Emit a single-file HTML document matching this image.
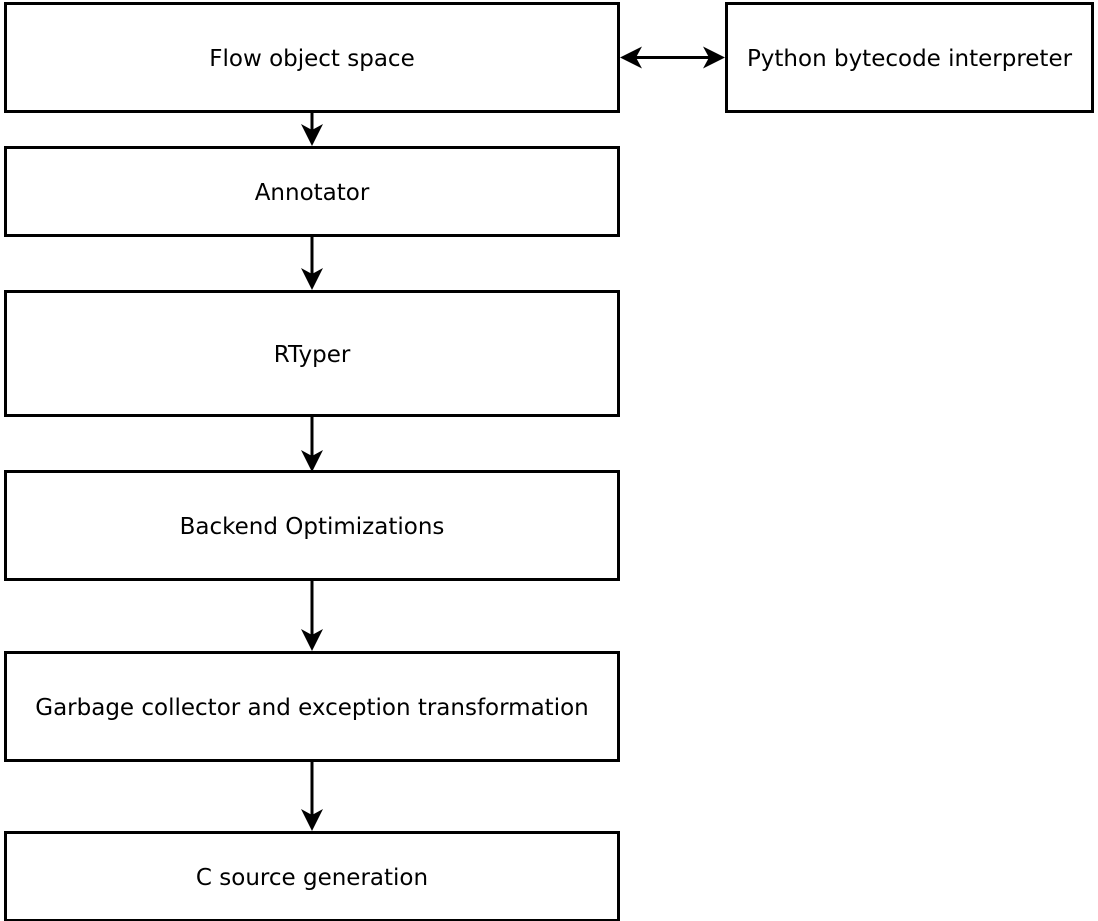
<!DOCTYPE html>
<html><head><meta charset="utf-8"><style>
html,body{margin:0;padding:0;background:#fff;}
body{position:relative;width:1098px;height:921px;overflow:hidden;}
svg{display:block;position:absolute;left:0;top:0;}
.t{position:absolute;display:flex;align-items:center;justify-content:center;font-family:"DejaVu Sans","Liberation Sans",sans-serif;font-size:23px;line-height:1;color:#000;white-space:nowrap;padding-top:4px;box-sizing:border-box;}
</style></head><body>
<svg width="1098" height="921" viewBox="0 0 1098 921" xmlns="http://www.w3.org/2000/svg">
<defs>
<path id="ah" d="M0,0 L-11,-22 L0,-16 L11,-22 Z" fill="#000"/>
</defs>
<g fill="#fff" stroke="#000" stroke-width="3">
<rect x="5.5" y="3.5" width="613" height="108"/>
<rect x="726.5" y="3.5" width="366" height="108"/>
<rect x="5.5" y="147.5" width="613" height="88"/>
<rect x="5.5" y="291.5" width="613" height="124"/>
<rect x="5.5" y="471.5" width="613" height="108"/>
<rect x="5.5" y="652.5" width="613" height="108"/>
<rect x="5.5" y="832.5" width="613" height="88"/>
</g>
<g stroke="#000" stroke-width="3">
<line x1="312" y1="112" x2="312" y2="132"/>
<line x1="312" y1="236" x2="312" y2="276"/>
<line x1="312" y1="416" x2="312" y2="456"/>
<line x1="312" y1="580" x2="312" y2="636"/>
<line x1="312" y1="761" x2="312" y2="816"/>
<line x1="634" y1="57.5" x2="710" y2="57.5"/>
</g>
<use href="#ah" transform="translate(312,146)"/>
<use href="#ah" transform="translate(312,290)"/>
<use href="#ah" transform="translate(312,472)"/>
<use href="#ah" transform="translate(312,651)"/>
<use href="#ah" transform="translate(312,831)"/>
<use href="#ah" transform="translate(620,57.5) rotate(90)"/>
<use href="#ah" transform="translate(725,57.5) rotate(-90)"/>
</svg>
<div class="t" style="left:5px;top:3px;width:614px;height:109px">Flow object space</div>
<div class="t" style="left:726px;top:3px;width:367px;height:109px">Python bytecode interpreter</div>
<div class="t" style="left:5px;top:147px;width:614px;height:89px">Annotator</div>
<div class="t" style="left:5px;top:291px;width:614px;height:125px">RTyper</div>
<div class="t" style="left:5px;top:471px;width:614px;height:109px">Backend Optimizations</div>
<div class="t" style="left:5px;top:652px;width:614px;height:109px">Garbage collector and exception transformation</div>
<div class="t" style="left:5px;top:832px;width:614px;height:89px">C source generation</div>
</body></html>
